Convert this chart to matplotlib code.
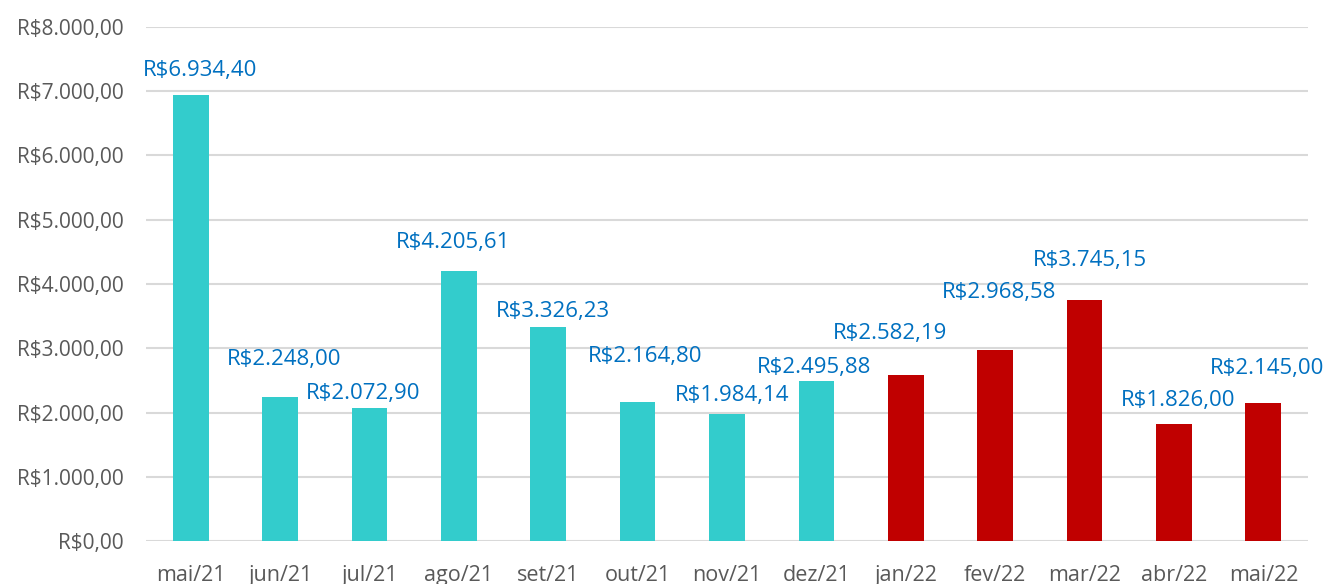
import matplotlib
matplotlib.use("Agg")
import matplotlib.pyplot as plt
import matplotlib.ticker


meses = ["mai/21", "jun/21", "jul/21", "ago/21", "set/21", "out/21", "nov/21",
         "dez/21", "jan/22", "fev/22", "mar/22", "abr/22", "mai/22"]
valores = [6934.40, 2248.00, 2072.90, 4205.61, 3326.23, 2164.80, 1984.14,
           2495.88, 2582.19, 2968.58, 3745.15, 1826.00, 2145.00]
anos = [2021] * 8 + [2022] * 5

# label offsets (pixels) to mimic the Excel placement
label_dx = [9, 4, -6, -6, 5, 8, 5, -2, -16, 4, 5, 4, 4]
label_dy = [25, 37, 14, 28, 16, 45, 18, 13, 42, 58, 40, 23, 35]

COR_2021 = "#33CCCC"
COR_2022 = "#C00000"
COR_LABEL = "#0070C0"
COR_TEXTO = "#595959"


def brl(v):
    s = "{:,.2f}".format(v)
    s = s.replace(",", "X").replace(".", ",").replace("X", ".")
    return "R$" + s


plt.rcParams["font.family"] = ["Open Sans", "DejaVu Sans"]

fig = plt.figure(figsize=(13.27, 5.84), dpi=100)
ax = fig.add_axes((0.110, 0.0736, 0.8757, 0.8802))

cores = [COR_2021 if a == 2021 else COR_2022 for a in anos]
x = list(range(len(meses)))
ax.bar(x, valores, width=0.4, color=cores, zorder=2)

for i in x:
    ax.annotate(brl(valores[i]), xy=(i, valores[i]),
                xytext=(label_dx[i] * 0.72, label_dy[i] * 0.72),
                textcoords="offset points", ha="center", va="center",
                fontsize=16, color=COR_LABEL)

ax.set_xlim(-0.5, len(meses) - 0.5)
ax.set_ylim(0, 8000)
ax.yaxis.set_major_locator(matplotlib.ticker.MultipleLocator(1000))
ax.yaxis.set_major_formatter(matplotlib.ticker.FuncFormatter(lambda v, p: brl(v)))
ax.set_xticks(x)
ax.set_xticklabels(meses)

ax.grid(axis="y", color="#D9D9D9", linewidth=1.5, zorder=0)
for s in ax.spines.values():
    s.set_visible(False)
ax.tick_params(axis="y", length=0, pad=16, labelsize=15, labelcolor=COR_TEXTO)
ax.tick_params(axis="x", length=0, pad=17, labelsize=15.5, labelcolor=COR_TEXTO)

fig.savefig("out.png", dpi=100)
